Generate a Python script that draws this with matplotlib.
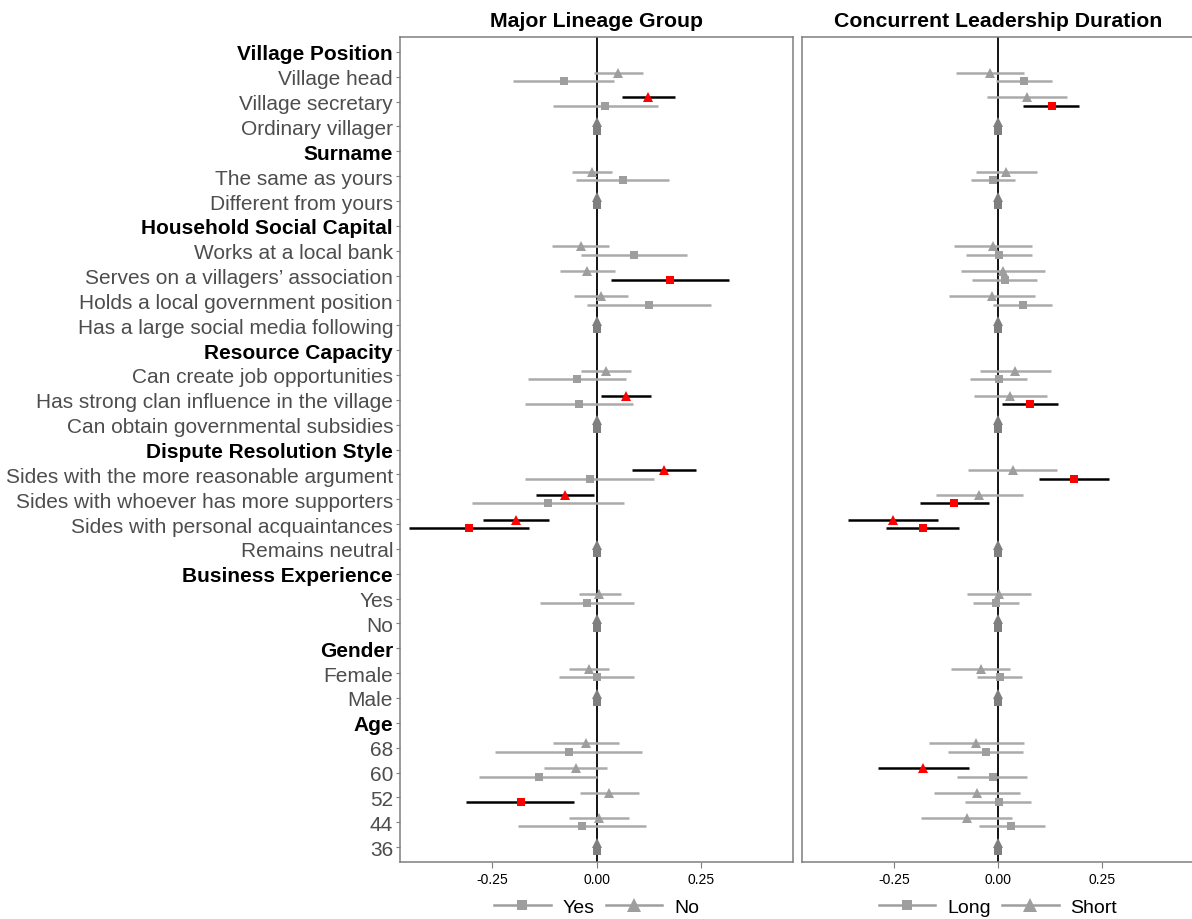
import numpy as np
import matplotlib
matplotlib.use("Agg")
import matplotlib.pyplot as plt
from matplotlib.lines import Line2D

plt.rcParams['font.family'] = ['Liberation Sans', 'DejaVu Sans']

labels = ["Village Position", "Village head", "Village secretary", "Ordinary villager",
          "Surname", "The same as yours", "Different from yours",
          "Household Social Capital", "Works at a local bank", "Serves on a villagers\u2019 association",
          "Holds a local government position", "Has a large social media following",
          "Resource Capacity", "Can create job opportunities", "Has strong clan influence in the village",
          "Can obtain governmental subsidies",
          "Dispute Resolution Style", "Sides with the more reasonable argument",
          "Sides with whoever has more supporters", "Sides with personal acquaintances", "Remains neutral",
          "Business Experience", "Yes", "No",
          "Gender", "Female", "Male",
          "Age", "68", "60", "52", "44", "36"]
headers = ["Village Position", "Surname", "Household Social Capital", "Resource Capacity",
           "Dispute Resolution Style", "Business Experience", "Gender", "Age"]

N = np.nan
# Panel 1: Major Lineage Group  (square = Yes, triangle = No)
mlg_yes_est = [N, -0.079, 0.020, 0, N, 0.063, 0, N, 0.090, 0.176, 0.126, 0, N, -0.047, -0.042, 0,
               N, -0.016, -0.117, -0.307, 0, N, -0.023, 0, N, 0.001, 0, N, -0.067, -0.139, -0.182, -0.036, 0]
mlg_yes_lo = [N, -0.200, -0.105, 0, N, -0.050, 0, N, -0.038, 0.034, -0.022, 0, N, -0.165, -0.171, 0,
              N, -0.171, -0.299, -0.450, 0, N, -0.136, 0, N, -0.091, 0, N, -0.244, -0.282, -0.313, -0.188, 0]
mlg_yes_hi = [N, 0.043, 0.147, 0, N, 0.175, 0, N, 0.218, 0.318, 0.274, 0, N, 0.072, 0.087, 0,
              N, 0.139, 0.065, -0.161, 0, N, 0.089, 0, N, 0.091, 0, N, 0.110, 0.002, -0.053, 0.118, 0]
mlg_no_est = [N, 0.052, 0.124, 0, N, -0.012, 0, N, -0.038, -0.022, 0.010, 0, N, 0.023, 0.071, 0,
              N, 0.161, -0.075, -0.194, 0, N, 0.006, 0, N, -0.019, 0, N, -0.025, -0.050, 0.030, 0.006, 0]
mlg_no_lo = [N, -0.006, 0.062, 0, N, -0.059, 0, N, -0.106, -0.087, -0.054, 0, N, -0.038, 0.010, 0,
             N, 0.085, -0.146, -0.272, 0, N, -0.043, 0, N, -0.067, 0, N, -0.104, -0.127, -0.039, -0.065, 0]
mlg_no_hi = [N, 0.111, 0.189, 0, N, 0.037, 0, N, 0.031, 0.044, 0.075, 0, N, 0.084, 0.130, 0,
             N, 0.238, -0.005, -0.115, 0, N, 0.058, 0, N, 0.030, 0, N, 0.054, 0.026, 0.101, 0.079, 0]

# Panel 2: Concurrent Leadership Duration (square = Long, triangle = Short)
cld_long_est = [N, 0.062, 0.129, 0, N, -0.013, 0, N, 0.002, 0.016, 0.059, 0, N, 0.002, 0.076, 0,
                N, 0.182, -0.105, -0.181, 0, N, -0.006, 0, N, 0.004, 0, N, -0.030, -0.013, 0.002, 0.032, 0]
cld_long_lo = [N, -0.005, 0.059, 0, N, -0.066, 0, N, -0.078, -0.063, -0.012, 0, N, -0.067, 0.010, 0,
               N, 0.099, -0.188, -0.270, 0, N, -0.060, 0, N, -0.050, 0, N, -0.120, -0.099, -0.079, -0.046, 0]
cld_long_hi = [N, 0.131, 0.196, 0, N, 0.040, 0, N, 0.081, 0.094, 0.131, 0, N, 0.070, 0.145, 0,
               N, 0.268, -0.021, -0.095, 0, N, 0.051, 0, N, 0.057, 0, N, 0.060, 0.071, 0.080, 0.114, 0]
cld_short_est = [N, -0.019, 0.069, 0, N, 0.019, 0, N, -0.013, 0.012, -0.015, 0, N, 0.042, 0.029, 0,
                 N, 0.035, -0.046, -0.253, 0, N, 0.002, 0, N, -0.042, 0, N, -0.052, -0.181, -0.051, -0.075, 0]
cld_short_lo = [N, -0.102, -0.027, 0, N, -0.054, 0, N, -0.107, -0.089, -0.117, 0, N, -0.043, -0.058, 0,
                N, -0.073, -0.150, -0.361, 0, N, -0.075, 0, N, -0.114, 0, N, -0.167, -0.289, -0.155, -0.186, 0]
cld_short_hi = [N, 0.063, 0.165, 0, N, 0.093, 0, N, 0.083, 0.114, 0.088, 0, N, 0.127, 0.118, 0,
                N, 0.143, 0.060, -0.144, 0, N, 0.080, 0, N, 0.030, 0, N, 0.063, -0.071, 0.052, 0.034, 0]

titles = ["Major Lineage Group", "Concurrent Leadership Duration"]
legend_names = [("Yes", "No"), ("Long", "Short")]

W, H = 1192, 920
fig = plt.figure(figsize=(W / 100, H / 100), dpi=100)

GRAY = "#9e9e9e"
ZGRAY = "#7f7f7f"
RED = "#ff0000"
SPINE = "#7f7f7f"

panels = [
    ((mlg_yes_est, mlg_yes_lo, mlg_yes_hi), (mlg_no_est, mlg_no_lo, mlg_no_hi)),
    ((cld_long_est, cld_long_lo, cld_long_hi), (cld_short_est, cld_short_lo, cld_short_hi)),
]
rects = [(400 / W, 1 - 863 / H, 393 / W, 825 / H), (802 / W, 1 - 863 / H, 392 / W, 825 / H)]
n = len(labels)
ypos = np.arange(n)
off = 0.17
TRI_MS, SQ_MS = 7.5, 6.0

for pi, (sq, tr) in enumerate(panels):
    ax = fig.add_axes(rects[pi])
    ax.axvline(0, color="black", lw=1.3, zorder=1)
    for series, marker, dy, ms in [(tr, "^", -off, TRI_MS), (sq, "s", off, SQ_MS)]:
        est, lo, hi = [np.array(s, dtype=float) for s in series]
        for i in range(n):
            if np.isnan(est[i]):
                continue
            y = ypos[i] + dy
            sig = lo[i] > 0 or hi[i] < 0
            lc = "black" if sig else "#aaaaaa"
            if hi[i] > lo[i]:
                ax.plot([lo[i], hi[i]], [y, y], color=lc, lw=1.8, zorder=2, solid_capstyle="butt")
            if sig:
                mc = RED
            elif est[i] == 0 and lo[i] == 0 and hi[i] == 0:
                mc = ZGRAY
            else:
                mc = GRAY
            ax.plot(est[i], y, marker=marker, color=mc, ms=ms, mew=0, zorder=3, ls="none")
    ax.set_xlim(-0.472, 0.472)
    ax.set_ylim(n - 1 + 0.6, -0.6)
    ax.set_xticks([-0.25, 0, 0.25])
    ax.set_xticklabels(["-0.25", "0.00", "0.25"], fontsize=10, color="black")
    ax.tick_params(axis="x", length=4, color=SPINE, width=0.8, pad=3)
    for s in ax.spines.values():
        s.set_color(SPINE)
        s.set_linewidth(1.1)
    if pi == 0:
        ax.set_yticks(ypos)
        ax.set_yticklabels(labels, fontsize=15)
        for t, lab in zip(ax.get_yticklabels(), labels):
            if lab in headers:
                t.set_fontweight("bold")
                t.set_color("black")
            else:
                t.set_color("#4d4d4d")
        ax.tick_params(axis="y", length=3, color=SPINE, width=0.8, pad=2)
    else:
        ax.set_yticks([])
    ax.set_title(titles[pi], fontsize=15.3, fontweight="bold", pad=8)
    handles = [
        Line2D([], [], color=GRAY, lw=1.8, marker="s", ms=6.5, mew=0),
        Line2D([], [], color=GRAY, lw=1.8, marker="^", ms=9.5, mew=0),
    ]
    ax.legend(handles, legend_names[pi], loc="center", bbox_to_anchor=(0.5, -45 / 825),
              ncol=2, frameon=False, fontsize=14, handlelength=2.9, columnspacing=0.6,
              handletextpad=0.6, borderaxespad=0, borderpad=0)

fig.savefig("out.png", dpi=100)
